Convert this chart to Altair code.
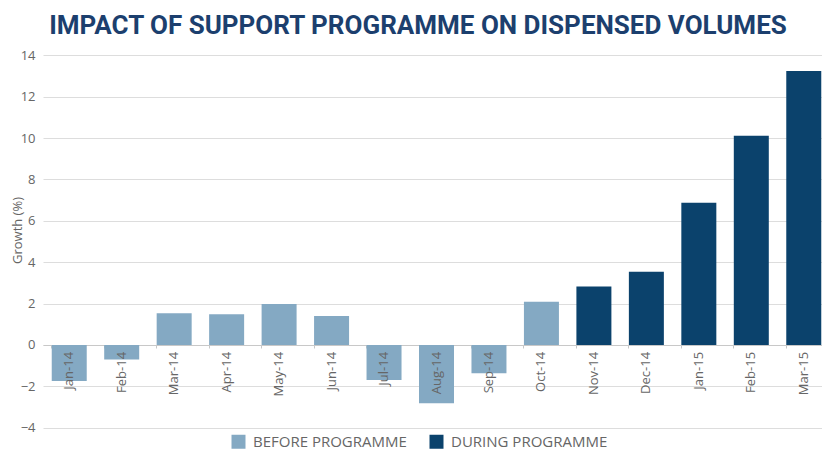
import altair as alt
import pandas as pd

months = ["Jan-14", "Feb-14", "Mar-14", "Apr-14", "May-14", "Jun-14", "Jul-14",
          "Aug-14", "Sep-14", "Oct-14", "Nov-14", "Dec-14", "Jan-15", "Feb-15", "Mar-15"]
growth = [-1.75, -0.7, 1.53, 1.48, 1.98, 1.4, -1.7, -2.82, -1.37, 2.09, 2.82, 3.54, 6.87, 10.11, 13.24]
phase = ["BEFORE PROGRAMME"] * 10 + ["DURING PROGRAMME"] * 5
phase_names = ["BEFORE PROGRAMME", "DURING PROGRAMME"]
phase_colors = ["#84a9c3", "#0b426c"]
y_ticks = [-4, -2, 0, 2, 4, 6, 8, 10, 12, 14]
title_text = ["IMPACT OF SUPPORT PROGRAMME ON DISPENSED VOLUMES"]

df = pd.DataFrame({"Month": months, "Growth": growth, "Phase": phase})

FONT = "Open Sans"
GRAY = "#666666"

x_scale = alt.Scale(domain=months, range=[0, 787], paddingInner=0.333, paddingOuter=0.1665)
y_scale = alt.Scale(domain=[-4.5, 14.5], nice=False, zero=False)

bars = alt.Chart(df).mark_bar().encode(
    x=alt.X("Month:N", sort=months, scale=x_scale,
            axis=alt.Axis(orient="bottom", offset=-93, labels=False, title=None,
                          grid=False, bandPosition=0, tickSize=3, tickColor="#c8c8c8",
                          domainColor="#c8c8c8", ticks=True)),
    y=alt.Y("Growth:Q", scale=y_scale,
            axis=alt.Axis(values=y_ticks, title="Growth (%)", grid=True, gridColor="#dddddd",
                          domain=False, ticks=False, tickSize=0, labelPadding=8,
                          labelFontSize=13, labelColor=GRAY, labelFont=FONT,
                          titleFont=FONT, titleFontSize=13, titleFontWeight="normal",
                          titleColor=GRAY, titleAngle=270, titleX=-22, titleY=185,
                          titleAlign="center", titleBaseline="alphabetic")),
    color=alt.Color("Phase:N", scale=alt.Scale(domain=phase_names, range=phase_colors),
                    legend=alt.Legend(orient="none", legendX=188, legendY=389,
                                      direction="horizontal", title=None,
                                      symbolType="square", symbolSize=196,
                                      symbolStrokeWidth=0, symbolOpacity=1,
                                      labelFontSize=15, labelColor=GRAY, labelFont=FONT,
                                      labelOffset=7, columnPadding=22)),
)

labels = alt.Chart(df).mark_text(angle=270, align="right", baseline="middle", dx=-7,
                                 fontSize=13, color=GRAY, font=FONT).encode(
    x=alt.X("Month:N", sort=months, scale=x_scale),
    y=alt.datum(0),
    text="Month:N",
)

title = alt.Chart(pd.DataFrame({"t": title_text})).mark_text(
    font="Roboto", fontSize=26, fontWeight="bold", color="#1c3f6e",
    align="center", baseline="alphabetic",
).encode(text="t:N", x=alt.value(375), y=alt.value(-11))

chart = alt.layer(bars, labels, title).properties(
    width=779,
    height=393,
    autosize=alt.AutoSizeParams(type="none"),
    padding={"left": 35, "top": 37, "right": 0, "bottom": 15},
    background="white",
).configure_view(stroke=None)

chart.save("out.html", embed_options={"renderer": "svg", "actions": False})
